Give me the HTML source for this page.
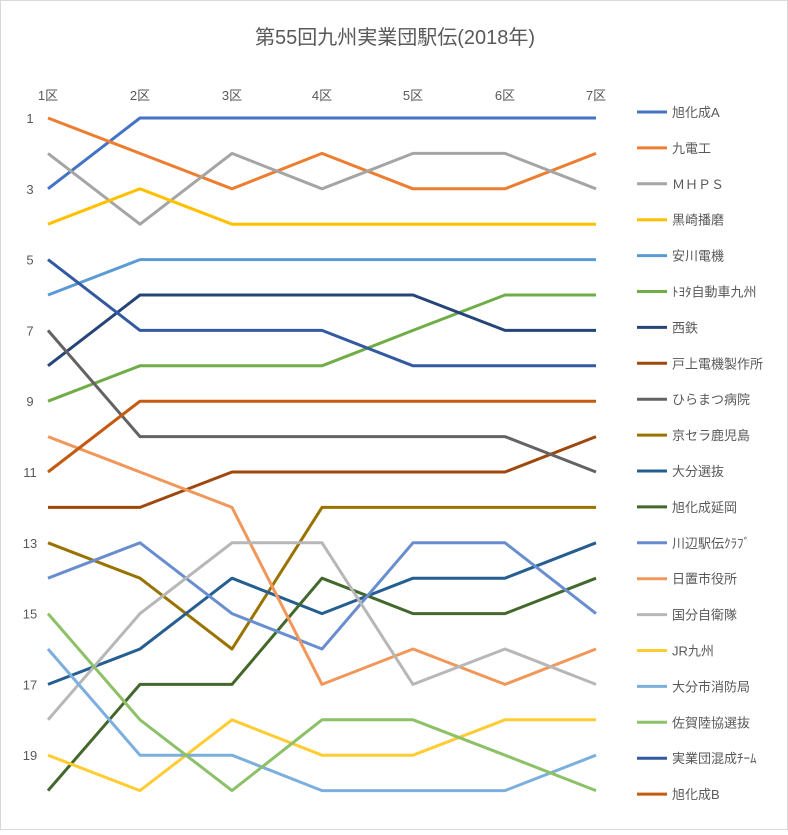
<!DOCTYPE html>
<html><head><meta charset="utf-8"><style>
body{margin:0;background:#fff;}
svg text{font-family:"Liberation Sans","Noto Sans CJK JP",sans-serif;fill:#595959;}
</style></head><body>
<svg width="788" height="830" xmlns="http://www.w3.org/2000/svg">
<rect x="0.5" y="0.5" width="787" height="829" fill="#fff" stroke="#d9d9d9"/>
<text x="395" y="44" font-size="20" text-anchor="middle">第55回九州実業団駅伝(2018年)</text>
<g font-size="13" text-anchor="middle">
<text x="48" y="100">1区</text><text x="140" y="100">2区</text><text x="232" y="100">3区</text><text x="322" y="100">4区</text><text x="413" y="100">5区</text><text x="505" y="100">6区</text><text x="596" y="100">7区</text>
</g>
<g font-size="13" text-anchor="middle" id="yl"></g>
<g id="lines" fill="none" stroke-width="3" stroke-linejoin="round"></g>
<g id="leg" font-size="13"></g>
<script>
var X=[48,140,232,322,413,505,596];
function Y(r){return 118+(r-1)*35.4;}
var S=[
["旭化成A","#4472C4",[3,1,1,1,1,1,1]],
["九電工","#ED7D31",[1,2,3,2,3,3,2]],
["ＭＨＰＳ","#A5A5A5",[2,4,2,3,2,2,3]],
["黒崎播磨","#FFC000",[4,3,4,4,4,4,4]],
["安川電機","#5B9BD5",[6,5,5,5,5,5,5]],
["ﾄﾖﾀ自動車九州","#70AD47",[9,8,8,8,7,6,6]],
["西鉄","#264478",[8,6,6,6,6,7,7]],
["戸上電機製作所","#9E480E",[12,12,11,11,11,11,10]],
["ひらまつ病院","#636363",[7,10,10,10,10,10,11]],
["京セラ鹿児島","#997300",[13,14,16,12,12,12,12]],
["大分選抜","#255E91",[17,16,14,15,14,14,13]],
["旭化成延岡","#43682B",[20,17,17,14,15,15,14]],
["川辺駅伝ｸﾗﾌﾞ","#698ED0",[14,13,15,16,13,13,15]],
["日置市役所","#F1975A",[10,11,12,17,16,17,16]],
["国分自衛隊","#B7B7B7",[18,15,13,13,17,16,17]],
["JR九州","#FFCD33",[19,20,18,19,19,18,18]],
["大分市消防局","#7CAFDD",[16,19,19,20,20,20,19]],
["佐賀陸協選抜","#8CC168",[15,18,20,18,18,19,20]],
["実業団混成ﾁｰﾑ","#335AA1",[5,7,7,7,8,8,8]],
["旭化成B","#C55A11",[11,9,9,9,9,9,9]]];
var ns="http://www.w3.org/2000/svg",L=document.getElementById("lines"),G=document.getElementById("leg"),YL=document.getElementById("yl");
for(var r=1;r<=19;r+=2){var t=document.createElementNS(ns,"text");t.setAttribute("x",30);t.setAttribute("y",Y(r)+5);t.textContent=r;YL.appendChild(t);}
S.forEach(function(s,i){
 var p=document.createElementNS(ns,"polyline");
 p.setAttribute("points",s[2].map(function(v,j){return X[j]+","+Y(v);}).join(" "));
 p.setAttribute("stroke",s[1]);L.appendChild(p);
 var y=112+i*35.9;
 var l=document.createElementNS(ns,"line");l.setAttribute("x1",637);l.setAttribute("x2",667);l.setAttribute("y1",y);l.setAttribute("y2",y);l.setAttribute("stroke",s[1]);l.setAttribute("stroke-width",3);G.appendChild(l);
 var t=document.createElementNS(ns,"text");t.setAttribute("x",672);t.setAttribute("y",y+5);t.textContent=s[0];G.appendChild(t);
});
</script>
</svg>
</body></html>
